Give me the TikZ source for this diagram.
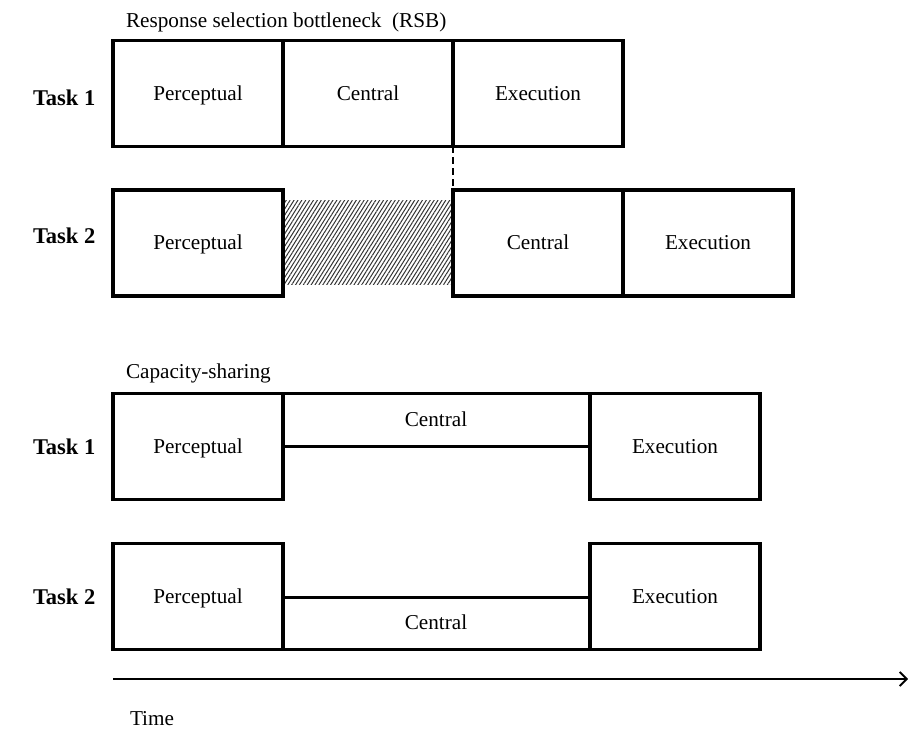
\documentclass[tikz,border=0pt]{standalone}
\usepackage{fontspec}
\setmainfont{Liberation Serif}
\newfontfamily\timesfont{Liberation Serif}
\usetikzlibrary{arrows.meta,patterns.meta}
\tikzset{
  x=1pt, y=-1pt,
  every node/.style={font=\timesfont\fontsize{21.2}{24}\selectfont, inner sep=0pt, outer sep=0pt},
  stage/.style={draw, line width=3.6pt, minimum width=170pt, minimum height=#1, anchor=center,
    text height=16pt, text depth=2.5pt},
  stage/.default=106pt,
  tasklabel/.style={anchor=west, font=\timesfont\fontsize{22.5}{26}\selectfont\bfseries},
  heading/.style={anchor=base west},
  sharetext/.style={text height=16pt, text depth=2.5pt},
  waitfill/.style={pattern={Lines[angle=58,distance=3.3pt,line width=1pt]}, pattern color=black!80},
}
\begin{document}
\begin{tikzpicture}
\useasboundingbox (0,0) rectangle (908,733);

% ---- Response selection bottleneck ----
\node[heading] (rsbtitle) at (126,28) {Response selection bottleneck\ \ (RSB)};

\node[tasklabel] (r1) at (33,98) {Task 1};
\node[stage] (r1p) at (198,93.5) {Perceptual};
\node[stage] (r1c) at (368,93.5) {Central};
\node[stage] (r1e) at (538,93.5) {Execution};

\node[tasklabel] (r2) at (33,236) {Task 2};
\node[stage] (r2p) at (198,243) {Perceptual};
\node[waitfill, minimum width=166pt, minimum height=84pt] (r2w) at (368,242) {};
\node[stage] (r2c) at (538,243) {Central};
\node[stage] (r2e) at (708,243) {Execution};

\draw[line width=2pt, dash pattern=on 7pt off 4pt] (r1c.south east) -- (r1c.south east |- r2c.north);

% ---- Capacity sharing ----
\node[heading] (cstitle) at (126,378) {Capacity-sharing};

\node[tasklabel] (c1) at (33,447) {Task 1};
\node[stage] (c1p) at (198,446.5) {Perceptual};
\node[stage] (c1e) at (675,446.5) {Execution};
\node[draw, line width=3.6pt, anchor=north west, minimum width=307pt, minimum height=53pt]
  (c1c) at (c1p.north east) {};
\node[sharetext] (c1ct) at (436,420) {Central};

\node[tasklabel] (c2) at (33,597) {Task 2};
\node[stage] (c2p) at (198,596.5) {Perceptual};
\node[stage] (c2e) at (675,596.5) {Execution};
\node[draw, line width=3.6pt, anchor=south west, minimum width=307pt, minimum height=52pt]
  (c2c) at (c2p.south east) {};
\node[sharetext] (c2ct) at (436,623) {Central};

% ---- Time axis ----
\coordinate (t0) at (113,679);
\coordinate (t1) at (908,679);
\draw[line width=1.8pt, -{Straight Barb[length=7pt,width=14pt,line width=1.8pt]}] (t0) -- (t1);
\node[anchor=west] (time) at (130,719) {Time};
\end{tikzpicture}
\end{document}
